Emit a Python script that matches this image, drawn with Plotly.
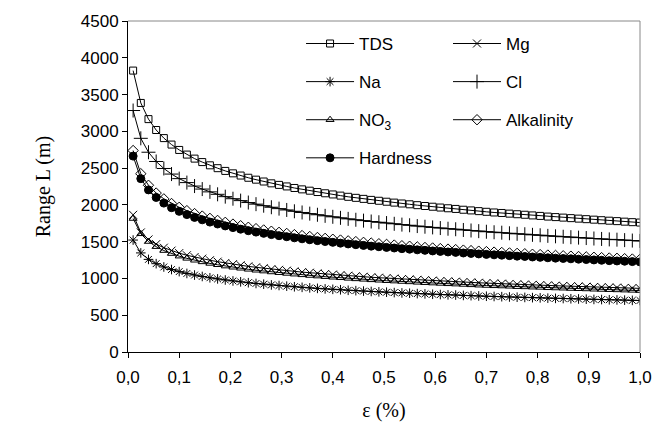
import plotly.graph_objects as go

eps = [0.010, 0.025, 0.040, 0.055, 0.070, 0.085, 0.100, 0.115, 0.130, 0.145,
       0.160, 0.175, 0.190, 0.205, 0.220, 0.235, 0.250, 0.265, 0.280, 0.295,
       0.310, 0.325, 0.340, 0.355, 0.370, 0.385, 0.400, 0.415, 0.430, 0.445,
       0.460, 0.475, 0.490, 0.505, 0.520, 0.535, 0.550, 0.565, 0.580, 0.595,
       0.610, 0.625, 0.640, 0.655, 0.670, 0.685, 0.700, 0.715, 0.730, 0.745,
       0.760, 0.775, 0.790, 0.805, 0.820, 0.835, 0.850, 0.865, 0.880, 0.895,
       0.910, 0.925, 0.940, 0.955, 0.970, 0.985, 1.000]

tds = [3826, 3386, 3166, 3018, 2908, 2820, 2747, 2684, 2629, 2582,
       2538, 2499, 2462, 2429, 2399, 2369, 2343, 2318, 2293, 2272,
       2251, 2230, 2211, 2193, 2175, 2158, 2142, 2126, 2110, 2096,
       2082, 2068, 2056, 2043, 2031, 2019, 2008, 1996, 1985, 1975,
       1964, 1954, 1945, 1934, 1925, 1915, 1906, 1897, 1890, 1881,
       1873, 1866, 1857, 1850, 1841, 1834, 1827, 1820, 1813, 1806,
       1799, 1792, 1785, 1779, 1772, 1765, 1760]

cl = [3283, 2905, 2716, 2590, 2495, 2419, 2357, 2303, 2256, 2215,
      2177, 2144, 2112, 2084, 2058, 2032, 2010, 1989, 1968, 1949,
      1931, 1913, 1897, 1881, 1866, 1851, 1838, 1824, 1810, 1798,
      1786, 1774, 1764, 1753, 1743, 1732, 1723, 1712, 1703, 1694,
      1685, 1676, 1669, 1659, 1652, 1643, 1635, 1628, 1622, 1614,
      1607, 1601, 1593, 1587, 1579, 1573, 1567, 1561, 1555, 1549,
      1543, 1537, 1531, 1527, 1521, 1515, 1510]

alkalinity = [2739, 2424, 2267, 2161, 2082, 2019, 1967, 1922, 1882, 1848,
              1817, 1789, 1763, 1739, 1717, 1696, 1677, 1659, 1642, 1627,
              1612, 1596, 1583, 1570, 1557, 1545, 1533, 1522, 1511, 1501,
              1491, 1481, 1472, 1463, 1454, 1445, 1438, 1429, 1421, 1414,
              1406, 1399, 1392, 1385, 1378, 1371, 1365, 1358, 1353, 1347,
              1341, 1336, 1329, 1324, 1318, 1313, 1308, 1303, 1298, 1293,
              1288, 1283, 1278, 1274, 1269, 1264, 1260]

hardness = [2663, 2357, 2204, 2101, 2024, 1962, 1912, 1868, 1830, 1797,
            1766, 1740, 1714, 1691, 1670, 1649, 1630, 1613, 1596, 1581,
            1567, 1552, 1539, 1526, 1514, 1502, 1491, 1480, 1469, 1459,
            1449, 1439, 1431, 1422, 1414, 1405, 1398, 1389, 1382, 1374,
            1367, 1360, 1354, 1346, 1340, 1333, 1327, 1321, 1316, 1310,
            1303, 1299, 1292, 1287, 1281, 1276, 1272, 1267, 1262, 1257,
            1252, 1247, 1242, 1238, 1234, 1229, 1225]

mg = [1865, 1625, 1530, 1466, 1418, 1378, 1344, 1315, 1290, 1269,
      1247, 1228, 1210, 1194, 1179, 1164, 1151, 1139, 1127, 1117,
      1106, 1096, 1086, 1078, 1069, 1060, 1053, 1045, 1037, 1030,
      1023, 1016, 1010, 1004, 998, 992, 987, 981, 976, 971,
      965, 960, 956, 951, 946, 941, 937, 932, 929, 925,
      920, 917, 913, 909, 905, 901, 898, 894, 891, 887,
      884, 881, 877, 875, 871, 868, 865]

no3 = [1815, 1607, 1502, 1432, 1379, 1338, 1303, 1273, 1247, 1225,
       1204, 1186, 1168, 1152, 1138, 1124, 1111, 1100, 1088, 1078,
       1068, 1058, 1049, 1040, 1032, 1024, 1016, 1009, 1001, 994,
       988, 981, 975, 969, 964, 958, 953, 947, 942, 937,
       932, 927, 923, 918, 913, 908, 904, 900, 897, 893,
       888, 885, 881, 878, 873, 870, 867, 863, 860, 857,
       853, 850, 847, 844, 841, 838, 835]

na = [1522, 1347, 1259, 1201, 1156, 1121, 1093, 1068, 1046, 1027,
      1009, 994, 979, 966, 954, 942, 932, 922, 912, 904,
      895, 887, 879, 872, 865, 858, 852, 846, 839, 834,
      828, 823, 818, 813, 808, 803, 799, 794, 790, 785,
      781, 777, 774, 769, 766, 762, 758, 755, 752, 748,
      745, 742, 739, 736, 732, 729, 727, 724, 721, 718,
      715, 713, 710, 708, 705, 702, 700]

x_ticks = [0.0, 0.1, 0.2, 0.3, 0.4, 0.5, 0.6, 0.7, 0.8, 0.9, 1.0]
y_ticks = [0, 500, 1000, 1500, 2000, 2500, 3000, 3500, 4000, 4500]

series = [
    ("TDS", tds, "square-open", 7, "legend"),
    ("Na", na, "asterisk-open", 8, "legend"),
    ("NO<sub>3</sub>", no3, "triangle-up-open", 7, "legend"),
    ("Hardness", hardness, "circle", 8, "legend"),
    ("Mg", mg, "x-thin-open", 8, "legend2"),
    ("Cl", cl, "cross-thin-open", 10, "legend2"),
    ("Alkalinity", alkalinity, "diamond-open", 8, "legend2"),
]

fig = go.Figure()
for name, vals, sym, size, leg in series:
    fig.add_trace(go.Scatter(
        x=eps, y=vals, name=name, mode="lines+markers",
        line=dict(color="black", width=1),
        marker=dict(symbol=sym, size=size, color="black",
                    line=dict(color="black", width=1)),
        legend=leg, legendgroup=name,
    ))

tick_font = dict(family="Liberation Sans, Arial, sans-serif", size=17, color="black")
leg_common = dict(font=dict(family="Liberation Sans, Arial, sans-serif", size=17, color="black"),
                  bgcolor="rgba(0,0,0,0)", traceorder="grouped", tracegroupgap=13,
                  xanchor="left", yanchor="top", itemwidth=48)

fig.update_layout(
    width=670, height=432, autosize=False,
    margin=dict(l=128, r=30, t=19, b=80),
    paper_bgcolor="white", plot_bgcolor="white",
    separators=",.",
    showlegend=True,
    legend=dict(x=0.338, y=0.985, **leg_common),
    legend2=dict(x=0.625, y=0.985, **leg_common),
    xaxis=dict(range=[0, 1.0], tickvals=x_ticks, tickformat=".1f",
               showgrid=False, zeroline=False, showline=True, linecolor="black",
               linewidth=1, ticks="outside", ticklen=5, tickcolor="black",
               tickfont=tick_font, ticklabelstandoff=5,
               title=dict(text="ε (%)", font=dict(family="Liberation Serif, Times New Roman, serif",
                                                size=20, color="black"), standoff=16)),
    yaxis=dict(range=[0, 4500], tickvals=y_ticks,
               showgrid=False, zeroline=False, showline=True, linecolor="black",
               linewidth=1, ticks="outside", ticklen=5, tickcolor="black",
               tickfont=tick_font,
               title=dict(text="Range L (m)", font=dict(family="Liberation Serif, Times New Roman, serif",
                                                      size=20, color="black"), standoff=24)),
    shapes=[
        dict(type="line", xref="paper", yref="paper", x0=0, x1=1, y0=1, y1=1,
             line=dict(color="#888888", width=1)),
        dict(type="line", xref="paper", yref="paper", x0=1, x1=1, y0=0, y1=1,
             line=dict(color="#888888", width=1)),
    ],
)

fig.write_html("out.html")
